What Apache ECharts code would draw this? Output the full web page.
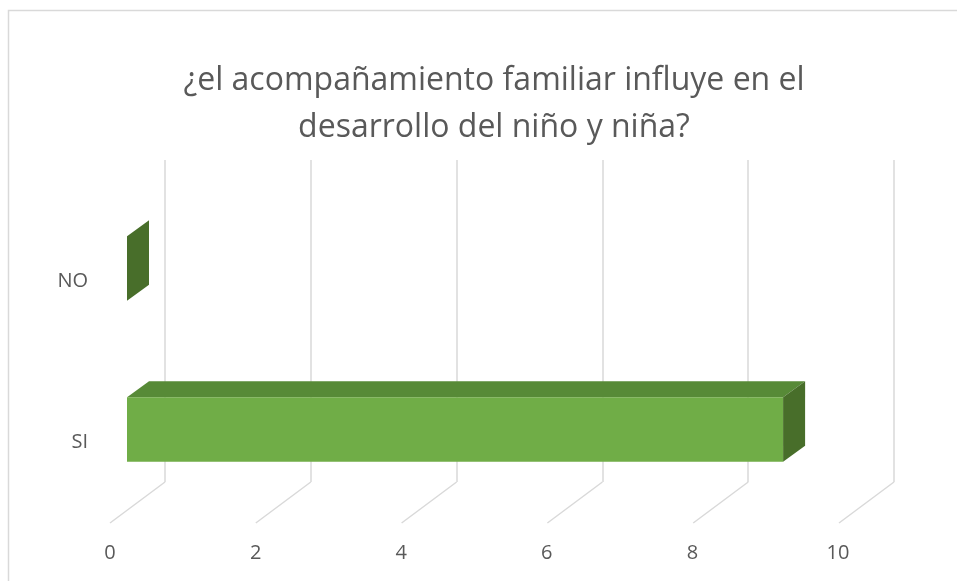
<!DOCTYPE html>
<html>
<head>
<meta charset="utf-8">
<script src="https://cdn.jsdelivr.net/npm/echarts@6/dist/echarts.min.js"></script>
<style>
  html, body { margin: 0; padding: 0; background: #fff; }
  #chart { width: 957px; height: 581px; }
</style>
</head>
<body>
<div id="chart"></div>
<script>
// data
const categories = ['SI', 'NO'];
const values = [9, 0];
const xTicks = [0, 2, 4, 6, 8, 10];

const FONT = '"Open Sans", "Noto Sans", sans-serif';
const TEXT = '#595959';
const GRID_LINE = '#d9d9d9';

// 3D offsets in px, measured from the back wall
const FLOOR = [-55, 41];      // back wall bottom -> front edge of floor
const BAR_FRONT = [-38, 28];  // back wall -> bar front face
const BAR_DEPTH = [22, -16];  // bar front face -> bar back face

const chart = echarts.init(document.getElementById('chart'));

chart.setOption({
  animation: false,
  title: {
    text: '¿el acompañamiento familiar influye en el\ndesarrollo del niño y niña?',
    left: 489,
    top: 52,
    textAlign: 'center',
    textStyle: {
      fontFamily: FONT,
      fontWeight: 'normal',
      fontSize: 32,
      lineHeight: 47,
      color: TEXT
    }
  },
  graphic: [{
    type: 'rect',
    shape: { x: 8.5, y: 10.5, width: 1000, height: 1000 },
    style: { fill: 'none', stroke: '#d9d9d9', lineWidth: 1.5 },
    silent: true
  }],
  grid: [
    // back wall
    { left: 165, right: 63, top: 160, bottom: 99 },
    // front edge of the floor (labels)
    { left: 110, right: 119, top: 201, bottom: 58 }
  ],
  xAxis: [
    {
      gridIndex: 0, type: 'value', min: 0, max: 10, interval: 2,
      axisLine: { show: false }, axisTick: { show: false }, axisLabel: { show: false },
      splitLine: { show: true, lineStyle: { color: GRID_LINE, width: 1.5 } }
    },
    {
      gridIndex: 1, type: 'value', min: 0, max: 10, interval: 2,
      axisLine: { show: false }, axisTick: { show: false }, splitLine: { show: false },
      axisLabel: { color: TEXT, fontSize: 20, fontFamily: FONT, margin: 20 }
    }
  ],
  yAxis: [
    {
      gridIndex: 0, type: 'category', data: categories,
      axisLine: { show: false }, axisTick: { show: false }, axisLabel: { show: false },
      splitLine: { show: false }
    },
    {
      gridIndex: 1, type: 'category', data: categories,
      axisLine: { show: false }, axisTick: { show: false }, splitLine: { show: false },
      axisLabel: { color: TEXT, fontSize: 20, fontFamily: FONT, margin: 22 }
    }
  ],
  series: [
    {
      // floor lines running from the back wall to the front
      type: 'custom',
      xAxisIndex: 0,
      yAxisIndex: 0,
      silent: true,
      z: 1,
      data: xTicks.map(t => [t, 0]),
      renderItem: function (params, api) {
        const x = api.coord([api.value(0), 0])[0];
        const y = params.coordSys.y + params.coordSys.height;
        return {
          type: 'line',
          shape: { x1: x, y1: y, x2: x + FLOOR[0], y2: y + FLOOR[1] },
          style: { stroke: GRID_LINE, lineWidth: 1.5 }
        };
      }
    },
    {
      type: 'custom',
      xAxisIndex: 0,
      yAxisIndex: 0,
      z: 5,
      encode: { x: 0, y: 1 },
      data: values.map((v, i) => [v, i]),
      renderItem: function (params, api) {
        const cat = api.value(1);
        const p0 = api.coord([0, cat]);
        const p1 = api.coord([api.value(0), cat]);
        const h = api.size([0, 1])[1] * 0.4;
        const x0 = p0[0] + BAR_FRONT[0];
        const x1 = p1[0] + BAR_FRONT[0];
        const cy = p0[1] + BAR_FRONT[1];
        const top = cy - h / 2;
        const bot = cy + h / 2;
        const dx = BAR_DEPTH[0], dy = BAR_DEPTH[1];
        const children = [];
        if (x1 - x0 > 0.5) {
          children.push({
            type: 'polygon',
            shape: { points: [[x0, top], [x1, top], [x1 + dx, top + dy], [x0 + dx, top + dy]] },
            style: { fill: '#578a37' }
          });
          children.push({
            type: 'rect',
            shape: { x: x0, y: top, width: x1 - x0, height: h },
            style: { fill: '#70ad47' }
          });
        }
        children.push({
          type: 'polygon',
          shape: { points: [[x1, top], [x1 + dx, top + dy], [x1 + dx, bot + dy], [x1, bot]] },
          style: { fill: '#486e2a' }
        });
        return { type: 'group', children: children };
      }
    }
  ]
});
</script>
</body>
</html>
